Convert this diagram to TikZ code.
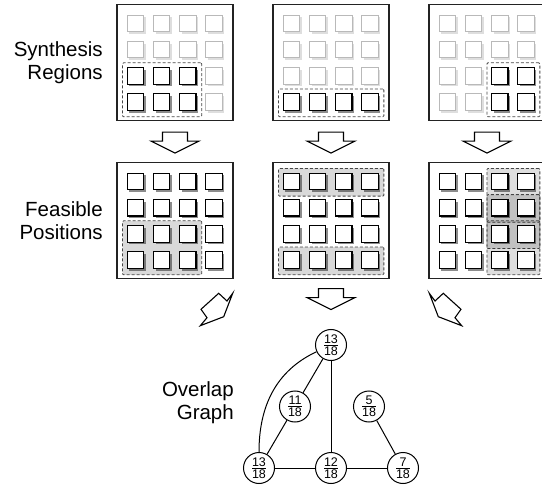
\documentclass[tikz,border=0pt]{standalone}
\usepackage{amsmath}
\usepackage{fontspec}
\setmainfont{Liberation Sans}
\usepackage{tikz}
\usepackage{xcolor}
\usetikzlibrary{positioning,calc,fit,backgrounds,shadows}
\definecolor{framegray}{RGB}{35,35,35}
\definecolor{palegray}{RGB}{185,185,185}
\definecolor{dashgray}{RGB}{70,70,70}
\tikzstyle{panel} = [
    draw=framegray,
    line width=1.2pt,
    minimum size=116pt,
    inner sep=0pt
]
\tikzstyle{cell} = [
    draw=black,
    line width=1.2pt,
    fill=white,
    minimum size=16.5pt,
    inner sep=0pt,
    drop shadow={shadow xshift=2.2pt, shadow yshift=-2.2pt, fill=black, opacity=.45}
]
\tikzstyle{cellpale} = [
    draw=palegray,
    line width=1pt,
    fill=white,
    minimum size=16.5pt,
    inner sep=0pt,
    drop shadow={shadow xshift=2.2pt, shadow yshift=-2.2pt, fill=black, opacity=.13}
]
\tikzstyle{region} = [
    draw=dashgray,
    line width=.8pt,
    dash pattern=on 3pt off 2pt,
    rounded corners=1pt,
    inner xsep=4.5pt,
    inner ysep=5pt,
    xshift=.5pt,
    yshift=-.8pt
]
\tikzstyle{blockline} = [
    line width=1.1pt,
    draw=black,
    fill=white,
    line join=miter
]
% one 4x4 grid of cells; #2..#3 columns and #4..#5 rows are the dark ones
\newcommand{\cellgrid}[5]{%
  \foreach \cc in {1,...,4}{%
    \foreach \rr in {1,...,4}{%
      \pgfmathtruncatemacro\inreg{and(and(\cc>#2-1,\cc<#3+1),and(\rr>#4-1,\rr<#5+1))}%
      \ifnum\inreg=1
        \node[cell] (#1-\cc-\rr) at ($(#1)+(26.2*\cc-65.8,65.2-26.2*\rr)$) {};
      \else
        \node[cellpale] (#1-\cc-\rr) at ($(#1)+(26.2*\cc-65.8,65.2-26.2*\rr)$) {};
      \fi
    }%
  }%
}
\newcommand{\ovfrac}[2]{$\genfrac{}{}{0.8pt}{1}{\mbox{#1}}{\mbox{#2}}$}
\begin{document}
\begin{tikzpicture}[
                x=1pt, y=1pt,
                label text/.style={
                    align=right,
                    inner sep=0pt,
                    font=\fontsize{20.5}{23}\selectfont
                },
                gnode/.style={
                    draw,
                    circle,
                    line width=1pt,
                    fill=white,
                    minimum size=31pt,
                    inner sep=0pt,
                    font=\fontsize{12.5}{13}\selectfont
                },
                gedge/.style={
                    line width=1pt
                },
                downarr/.pic={
                    \draw[blockline] (-12.5,0) -- (12.5,0) -- (12.5,-9) -- (24,-9) -- (0,-21) -- (-24,-9) -- (-12.5,-9) -- cycle;
                },
                slantarr/.pic={
                    \draw[blockline] (0,0) -- (-6.7,8) -- (-0.7,16.4) -- (-18.4,32.4) -- (-26.7,24.7) -- (-32.4,32.4) -- (-23.4,9) -- cycle;
                }
            ]
                \clip (0,0) rectangle (542,-487);

                % panels
                \node[panel] (syn1) at (175,-62.5) {};
                \node[panel] (syn2) [right=38.8pt of syn1] {};
                \node[panel] (syn3) [right=38.8pt of syn2] {};
                \node[panel] (fea1) [below=40.8pt of syn1] {};
                \node[panel] (fea2) [right=38.8pt of fea1] {};
                \node[panel] (fea3) [right=38.8pt of fea2] {};

                \node[label text] (lsyn) [left=13.5pt of syn1] {Synthesis\\Regions};
                \node[label text] (lfea) [left=13.5pt of fea1] {Feasible\\Positions};

                \cellgrid{syn1}{1}{3}{3}{4}
                \cellgrid{syn2}{1}{4}{4}{4}
                \cellgrid{syn3}{3}{4}{3}{4}
                \cellgrid{fea1}{1}{4}{1}{4}
                \cellgrid{fea2}{1}{4}{1}{4}
                \cellgrid{fea3}{1}{4}{1}{4}

                \begin{scope}[on background layer]
                    \node[region, fit=(syn1-1-3)(syn1-3-4)] (rsyn1) {};
                    \node[region, fit=(syn2-1-4)(syn2-4-4)] (rsyn2) {};
                    \node[region, fit=(syn3-3-3)(syn3-4-4)] (rsyn3) {};
                    \node[region, fill=black, fill opacity=.15, fit=(fea1-1-3)(fea1-3-4)] (rfea1) {};
                    \node[region, fill=black, fill opacity=.15, fit=(fea2-1-1)(fea2-4-1)] (rfea2a) {};
                    \node[region, fill=black, fill opacity=.15, fit=(fea2-1-4)(fea2-4-4)] (rfea2b) {};
                    \node[region, fill=black, fill opacity=.13, fit=(fea3-3-1)(fea3-4-2)] (rfea3a) {};
                    \node[region, fill=black, fill opacity=.13, fit=(fea3-3-2)(fea3-4-3)] (rfea3b) {};
                    \node[region, fill=black, fill opacity=.13, fit=(fea3-3-3)(fea3-4-4)] (rfea3c) {};
                \end{scope}

                % block arrows
                \pic (asyn1) at ([yshift=-11pt]syn1.south) {downarr};
                \pic (asyn2) at ([yshift=-11pt]syn2.south) {downarr};
                \pic (asyn3) at ([yshift=-11pt]syn3.south) {downarr};
                \pic (afea2) at ([yshift=-9.5pt]fea2.south) {downarr};
                \pic[xscale=-1] (afea1) at (200.3,-325.7) {slantarr};
                \pic (afea3) at (461.7,-325.7) {slantarr};

                % overlap graph
                \node[gnode] (n13a) at (331,-345) {\ovfrac{13}{18}};
                \node[gnode] (n12) [below=91pt of n13a] {\ovfrac{12}{18}};
                \node[gnode] (n13b) [left=40pt of n12] {\ovfrac{13}{18}};
                \node[gnode] (n7) [right=40pt of n12] {\ovfrac{7}{18}};
                \node[gnode] (n11) at ($(n13b)!0.5!(n13a)$) {\ovfrac{11}{18}};
                \node[gnode] (n5) at ($(n7)!0.5!(n13a)+(2,0)$) {\ovfrac{5}{18}};
                \node[label text] (lov) [left=45pt of n11, yshift=4pt] {Overlap\\Graph};

                \draw[gedge] (n13a) -- (n11);
                \draw[gedge] (n13a) -- (n12);
                \draw[gedge] (n13a) to[out=205, in=90] (n13b);
                \draw[gedge] (n11) -- (n13b);
                \draw[gedge] (n13b) -- (n12);
                \draw[gedge] (n12) -- (n7);
                \draw[gedge] (n5) -- (n7);
            \end{tikzpicture}
\end{document}
